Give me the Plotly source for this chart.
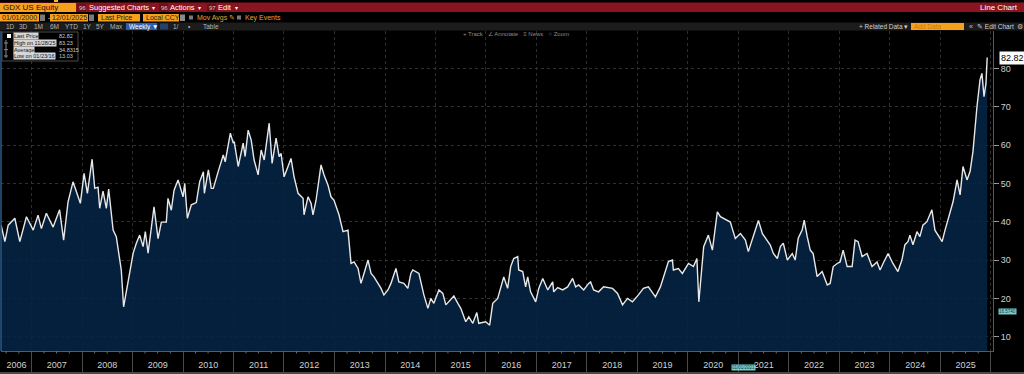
import plotly.graph_objects as go
import pandas as pd

# ---------------- data ----------------
dates = [
    "2006-05-26", "2006-06-22", "2006-07-16", "2006-09-02", "2006-10-08", "2006-11-25",
    "2007-01-13", "2007-02-17", "2007-03-13", "2007-04-18", "2007-06-06", "2007-07-23",
    "2007-08-21", "2007-09-22", "2007-10-28", "2007-12-20",
    "2008-01-16", "2008-02-09", "2008-03-14", "2008-04-02", "2008-04-26", "2008-05-08",
    "2008-06-01", "2008-06-25", "2008-07-12", "2008-08-13", "2008-09-05", "2008-09-22",
    "2008-10-11", "2008-10-28", "2008-11-17", "2008-12-10",
    "2009-01-05", "2009-01-28", "2009-02-21", "2009-03-18", "2009-04-03", "2009-04-23",
    "2009-06-05", "2009-07-04", "2009-07-28", "2009-09-02", "2009-09-14", "2009-10-08",
    "2009-10-28", "2009-11-26",
    "2010-01-01", "2010-01-13", "2010-02-01", "2010-03-02", "2010-04-07", "2010-05-01",
    "2010-05-28", "2010-06-04", "2010-07-03", "2010-07-24", "2010-08-08", "2010-09-13",
    "2010-10-19", "2010-11-02", "2010-11-24", "2010-12-09", "2010-12-30",
    "2011-01-06", "2011-02-04", "2011-03-12", "2011-03-26", "2011-04-17", "2011-05-09",
    "2011-05-30", "2011-06-28", "2011-07-20", "2011-08-11", "2011-09-16", "2011-10-07",
    "2011-11-05", "2011-11-27", "2011-12-11",
    "2012-01-02", "2012-01-23", "2012-02-21", "2012-03-14", "2012-04-12", "2012-05-18",
    "2012-05-25", "2012-06-23", "2012-07-15", "2012-07-29", "2012-08-20", "2012-09-25",
    "2012-10-17", "2012-11-14", "2012-12-06", "2012-12-28",
    "2013-02-02", "2013-03-03", "2013-04-08", "2013-04-30", "2013-05-22", "2013-06-20",
    "2013-07-11", "2013-08-02", "2013-08-31", "2013-09-22", "2013-10-13", "2013-11-11",
    "2013-12-03", "2013-12-24",
    "2014-01-22", "2014-02-13", "2014-02-27", "2014-03-21", "2014-04-11", "2014-05-17",
    "2014-06-15", "2014-07-07", "2014-07-21", "2014-09-03", "2014-10-09", "2014-11-07",
    "2014-11-28", "2014-12-20",
    "2015-01-26", "2015-02-23", "2015-03-17", "2015-04-08", "2015-05-14", "2015-06-12",
    "2015-07-03", "2015-08-08", "2015-08-30", "2015-09-28", "2015-10-27", "2015-11-10",
    "2015-12-30",
    "2016-01-28", "2016-02-19", "2016-03-26", "2016-04-17", "2016-05-09", "2016-06-06",
    "2016-06-28", "2016-07-20", "2016-08-18", "2016-08-25", "2016-09-23", "2016-10-14",
    "2016-10-29", "2016-11-19", "2016-12-26",
    "2017-01-17", "2017-02-15", "2017-03-23", "2017-04-28", "2017-05-05", "2017-06-03",
    "2017-07-09", "2017-08-14", "2017-09-19", "2017-10-11", "2017-11-02", "2017-12-08",
    "2018-01-13", "2018-01-27", "2018-02-18", "2018-03-26", "2018-05-01", "2018-07-05",
    "2018-08-10", "2018-09-15", "2018-10-21", "2018-11-26",
    "2019-01-08", "2019-02-13", "2019-03-21", "2019-05-11", "2019-06-16", "2019-07-08",
    "2019-08-13", "2019-09-11", "2019-09-18", "2019-10-24", "2019-11-22",
    "2020-01-05", "2020-02-10", "2020-03-06", "2020-03-20", "2020-04-24", "2020-05-28",
    "2020-06-26", "2020-08-01", "2020-08-23", "2020-09-28", "2020-11-03", "2020-11-17",
    "2020-12-09",
    "2021-01-15", "2021-02-20", "2021-03-13", "2021-04-19", "2021-05-25", "2021-06-23",
    "2021-07-29", "2021-08-19", "2021-09-10", "2021-10-09", "2021-10-31", "2021-11-21",
    "2021-12-20",
    "2022-01-25", "2022-02-15", "2022-03-09", "2022-04-07", "2022-04-21", "2022-05-13",
    "2022-06-04", "2022-06-25", "2022-07-24", "2022-08-29", "2022-10-05", "2022-10-26",
    "2022-11-17", "2022-12-16",
    "2023-01-06", "2023-01-28", "2023-02-26", "2023-04-03", "2023-04-24", "2023-05-16",
    "2023-06-14", "2023-07-20", "2023-08-25", "2023-09-30", "2023-10-22", "2023-11-13",
    "2023-12-19",
    "2024-01-23", "2024-02-28", "2024-03-28", "2024-04-19", "2024-05-11", "2024-05-25",
    "2024-06-16", "2024-07-15", "2024-08-05", "2024-08-27", "2024-09-25", "2024-10-31",
    "2024-11-22",
    "2025-01-13", "2025-02-03", "2025-02-25", "2025-04-02", "2025-05-01", "2025-05-23",
    "2025-06-13", "2025-07-12", "2025-08-03", "2025-08-24", "2025-09-22", "2025-10-14",
    "2025-10-28", "2025-11-12", "2025-11-26", "2025-12-05",
]

prices = [
    39.1, 34.8, 39.1, 40.9, 34.8, 41.3,
    37.8, 41.7, 38.2, 42.2, 38.6, 43.1,
    35.2, 45.2, 50.4, 44.8,
    52.6, 47.4, 56.3, 48.7, 49.0, 43.5,
    48.0, 43.5, 48.5, 37.8, 36.1, 31.8,
    27.4, 17.8, 21.7, 26.3,
    31.8, 34.4, 36.5, 33.5, 37.4, 31.8,
    43.9, 35.6, 39.9, 39.9, 46.1, 43.0,
    48.2, 50.9,
    46.5, 50.0, 40.9, 44.4, 45.0, 50.4,
    53.0, 47.4, 53.5, 48.7, 48.7, 53.2,
    57.4, 55.6, 60.0, 63.1, 60.5,
    60.9, 54.4, 60.5, 57.0, 63.9, 61.3,
    56.1, 52.2, 58.7, 56.1, 65.7, 55.2,
    61.8, 57.0, 57.8,
    51.7, 53.9, 56.5, 51.7, 47.4, 46.1,
    41.8, 46.5, 44.8, 41.8, 45.6, 54.8,
    52.2, 49.6, 46.5, 45.6,
    41.8, 37.4, 37.8, 29.1, 29.5, 27.8,
    23.9, 26.5, 30.0, 26.5, 25.6, 23.9,
    22.6, 20.9,
    22.2, 23.9, 25.6, 27.8, 24.3, 23.9,
    22.6, 26.5, 27.4, 26.5, 20.9, 17.4,
    20.0, 18.7,
    22.2, 21.3, 18.3, 19.1, 20.6, 18.7,
    17.4, 13.9, 15.2, 13.5, 16.3, 13.5,
    13.9,
    13.0, 18.7, 20.0, 22.6, 25.6, 22.6,
    28.3, 30.4, 30.9, 27.4, 27.0, 23.0,
    25.6, 21.7, 19.1,
    22.6, 25.2, 22.2, 24.3, 21.7, 22.8,
    22.2, 23.0, 25.2, 23.0, 23.5, 22.2,
    23.9, 24.3, 22.2, 21.7, 23.0, 22.6,
    21.3, 18.3, 20.0, 19.1,
    20.9, 22.6, 23.0, 20.4, 23.0, 25.6,
    29.6, 30.0, 27.4, 27.8, 26.5,
    29.1, 28.3, 30.4, 19.1, 33.5, 36.5,
    32.6, 42.6, 41.3, 40.5, 39.9, 38.2,
    35.6,
    36.9, 35.2, 32.2, 36.1, 40.3, 36.9,
    35.2, 33.9, 31.7, 30.4, 33.5, 34.4,
    30.0,
    31.7, 30.0, 35.7, 37.9, 40.4, 36.1,
    32.6, 31.7, 25.7, 27.0, 23.5, 23.9,
    28.3, 29.1,
    29.5, 32.6, 28.3, 28.3, 35.2, 34.8,
    30.9, 31.7, 28.3, 29.5, 27.4, 29.1,
    31.7,
    29.1, 27.0, 30.0, 34.0, 34.8, 36.5,
    34.0, 37.4, 36.1, 39.1, 40.0, 43.1,
    37.8,
    34.8, 37.8, 40.9, 45.2, 50.9, 47.0,
    54.4, 50.9, 53.1, 58.3, 70.0, 77.0,
    78.7, 72.6, 76.1, 82.82,
]

y_ticks = [10, 20, 30, 40, 50, 60, 70, 80]
year_labels = [str(y) for y in range(2006, 2026)]
year_label_dates = ["2006-09-14"] + [f"{y}-07-02" for y in range(2007, 2026)]
year_starts = [f"{y}-01-01" for y in range(2007, 2027)]
x_range = ["2006-05-25", "2026-01-16"]
y_range = [6.27, 89.75]

legend_rows = [("Last Price", "82.82"), ("High on 11/28/25", "83.23"),
               ("Average", "34.8315"), ("Low on 01/23/16", "13.03")]
last_label = "82.82"

# ---------------- geometry helpers for the terminal chrome ----------------
FIG_W, FIG_H = 1024, 374
ML, MR, MT, MB = 1, 31, 31, 23
PW, PH = FIG_W - ML - MR, FIG_H - MT - MB
FONT = "Liberation Sans, Arial, sans-serif"


def fx(px):
    return (px - ML) / PW


def fy(py):
    return 1 - (py - MT) / PH


shapes = []
annotations = []


def box(x0, y0, x1, y1, color, line=None):
    shapes.append(dict(type="rect", xref="paper", yref="paper",
                       x0=fx(x0), x1=fx(x1), y0=fy(y1), y1=fy(y0),
                       fillcolor=color, layer="above",
                       line=dict(width=1 if line else 0, color=line or color)))


def hline(x0, x1, y, color, w=1):
    shapes.append(dict(type="line", xref="paper", yref="paper",
                       x0=fx(x0), x1=fx(x1), y0=fy(y), y1=fy(y),
                       line=dict(color=color, width=w), layer="above"))


def vline(x, y0, y1, color, w=1):
    shapes.append(dict(type="line", xref="paper", yref="paper",
                       x0=fx(x), x1=fx(x), y0=fy(y0), y1=fy(y1),
                       line=dict(color=color, width=w), layer="above"))


def text(t, x, y, size=8, color="#ffffff", anchor="left", bg=None):
    a = dict(text=t, xref="paper", yref="paper", x=fx(x), y=fy(y),
             xanchor=anchor, yanchor="middle", showarrow=False,
             font=dict(size=size, color=color, family=FONT), borderpad=0)
    if bg:
        a["bgcolor"] = bg
    annotations.append(a)


ORANGE = "#f5a11c"
RED = "#8a1420"

# row 1: red title bar
box(0, 2.5, 1024, 12, RED)
box(0, 3, 76, 12, ORANGE)
text("GDX US Equity", 2, 7.6, 8, "#111111")
for num, lab, xn, xl, xd in [("96", "Suggested Charts", 77, 88, 151),
                             ("96", "Actions", 159, 169, 197),
                             ("97", "Edit", 207, 217, 234)]:
    box(xn, 3.5, xn + 9, 11.5, "#6a1018")
    text(num, xn + 1, 7.6, 6, "#e6c8c8")
    text(lab, xl, 7.6, 7.5, "#ffffff")
    text("▾", xd, 7.6, 6, "#ffffff")
text("Line Chart", 1019, 7.6, 8, "#ffffff", anchor="right")
box(54, 0, 58, 2, "#e8c020")

# row 2: inputs
box(0, 14, 39, 21.5, ORANGE)
text("01/01/2000", 1, 17.8, 7, "#1a1a1a")
box(40, 14.5, 45, 21, "#7a7a7a")
text("-", 47, 17.8, 7, "#cccccc")
box(50, 14, 88, 21.5, ORANGE)
text("12/01/2025", 51, 17.8, 7, "#1a1a1a")
box(89, 14.5, 94, 21, "#7a7a7a")
box(98, 14, 140, 21.5, ORANGE)
text("Last Price", 100, 17.8, 7, "#1a1a1a")
box(143, 14, 179, 21.5, ORANGE)
text("Local CCY", 145, 17.8, 7, "#1a1a1a")
box(180, 14.5, 185, 21, "#8a8a8a")
box(189, 15.5, 193, 19.5, "#7a7a7a")
text("Mov Avgs ✎", 196, 17.8, 7, "#e8a030")
box(237, 15.5, 241, 19.5, "#7a7a7a")
text("Key Events", 244, 17.8, 7, "#e8a030")

# row 3: period bar
box(0, 22.5, 1024, 30.5, "#1c1c1c")
for lab, x in [("1D", 5), ("3D", 18), ("1M", 33), ("6M", 49), ("YTD", 64),
               ("1Y", 82), ("5Y", 95), ("Max", 109)]:
    text(lab, x, 26.6, 6.5, "#b5b5b5")
box(126, 23, 157, 30, "#2d5fb0")
text("Weekly ▼", 128, 26.6, 6.5, "#ffffff")
box(160, 23.5, 168, 29.5, "#26406a")
text("1/", 172, 26.6, 6.5, "#b5b5b5")
text("•", 187, 26.6, 6.5, "#b5b5b5")
text("Table", 202, 26.6, 6.5, "#b5b5b5")
text("+ Related Data ▾", 858, 26.6, 6.5, "#d0d0d0")
box(911, 23, 964, 30, ORANGE)
text("Add Data", 913, 26.6, 6.5, "#c87a10")
text("«", 968, 26.6, 7, "#c0c0c0")
text("✎ Edit Chart", 976, 26.6, 6.5, "#d0d0d0")
text("⚙", 1016, 26.6, 7, "#c0c0c0")

# track row
text("+ Track   ∠ Annotate   ≡ News   ○ Zoom", 462, 34.2, 6, "#8a8a8a")

# legend box
box(2, 32, 78, 61, "#000000", line="#4a4a4a")
row_y = [36, 43, 49.6, 56]
box(7, 34, 11, 38, "#ffffff")
vline(6, 40, 58, "#8a8a8a")
for yy in row_y[1:]:
    hline(4, 8, yy, "#8a8a8a")
for (lab, val), yy in zip(legend_rows, row_y):
    text(lab, 13, yy, 5.5, "#111111", bg="#d6d6d6")
    text(val, 58, yy, 5.5, "#c8c8c8")

# left border line and bottom frame line
vline(1, 31, 351, "#2a5a8c", 1.5)
box(0, 372, 1024, 374, "#4a4a4a")

# quarterly small ticks under the axis (derived from the axis dates)
for d in pd.date_range("2006-07-01", "2025-12-31", freq="QS"):
    if d.month == 1:
        continue
    shapes.append(dict(type="line", xref="x", yref="paper", x0=d, x1=d,
                       y0=0, y1=-2.5 / PH, line=dict(color="#6a6a6a", width=1)))

# last price tag and cursor tags
annotations.append(dict(text=last_label, xref="paper", yref="y", x=1, y=prices[-1],
                        xanchor="left", xshift=6, yanchor="middle", showarrow=False,
                        font=dict(size=9, color="#000000", family=FONT),
                        bgcolor="#ffffff", borderpad=1))
text("16.5740", 998, 311, 4.5, "#0d3b3b", bg="#7ccccc")
text("01/01/2021", 731, 367.5, 4.5, "#0d3b3b", bg="#7ccccc")

# ---------------- figure ----------------
fig = go.Figure()
fig.add_trace(go.Scatter(
    x=dates, y=prices, mode="lines",
    line=dict(color="#e8e8e8", width=1.4),
    fill="tozeroy", fillcolor="rgba(4,36,70,0.88)",
    hoverinfo="skip",
))

fig.update_layout(
    width=FIG_W, height=FIG_H,
    margin=dict(l=ML, r=MR, t=MT, b=MB, pad=0),
    paper_bgcolor="#000000", plot_bgcolor="#000000",
    showlegend=False,
    shapes=shapes, annotations=annotations,
    xaxis=dict(
        type="date", range=x_range,
        tickmode="array", tickvals=year_label_dates, ticktext=year_labels,
        ticks="outside", ticklen=5, tickcolor="rgba(0,0,0,0)",
        tickfont=dict(size=9, color="#d0d0d0", family=FONT),
        showgrid=False, zeroline=False,
        showline=True, linecolor="#4b5b72", linewidth=1,
        minor=dict(tickmode="array", tickvals=year_starts,
                   ticks="outside", ticklen=22, tickcolor="#4a4a4a", tickwidth=1,
                   showgrid=True, gridcolor="#2e2e2e", griddash="dot", gridwidth=1),
        automargin=False, fixedrange=True,
    ),
    yaxis=dict(
        side="right", range=y_range,
        tickmode="array", tickvals=y_ticks,
        ticks="outside", ticklen=5, tickcolor="#9a9a9a",
        tickfont=dict(size=9, color="#d0d0d0", family=FONT),
        showgrid=True, gridcolor="#303030", griddash="dot", gridwidth=1,
        zeroline=False, showline=True, linecolor="#5a5a5a",
        automargin=False, fixedrange=True,
    ),
)

fig.write_html("out.html", config={"displayModeBar": False},
               post_script="document.body.style.margin='0';document.body.style.overflow='hidden';")
